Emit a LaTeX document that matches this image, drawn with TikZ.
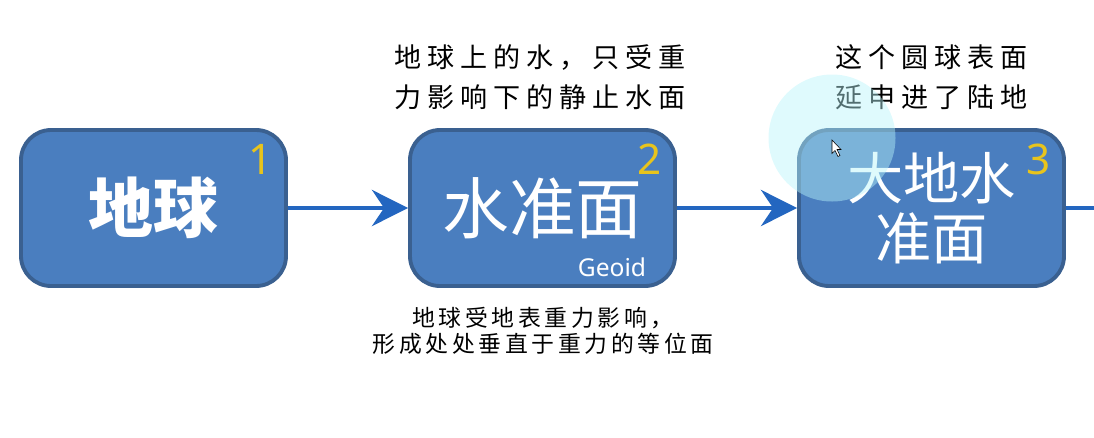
\documentclass[tikz,border=0pt]{standalone}
\usepackage{fontspec}
\usepackage{tikz}
\usetikzlibrary{arrows.meta,positioning}
\newfontfamily\cjk{Noto Sans CJK SC}
\newfontfamily\notefont[LetterSpace=22]{Noto Sans CJK SC}
\newfontfamily\subnotefont[LetterSpace=16]{Noto Sans CJK SC}
\setsansfont{Noto Sans}
\definecolor{boxfill}{HTML}{4A7EBF}
\definecolor{boxline}{HTML}{3A6090}
\definecolor{arrowblue}{HTML}{2366C0}
\definecolor{numyellow}{HTML}{E8C41C}
\definecolor{spot}{HTML}{B8F4FA}

\begin{document}
\begin{tikzpicture}[>={Stealth[length=0.72cm,width=0.72cm,inset=0.24cm]},shorten >=0pt,node distance=7.78cm,
    stage/.style={draw=boxline,line width=2.2pt,fill=boxfill,rounded corners=0.6cm,
      minimum width=5.3cm,minimum height=3.12cm,text=white,align=center},
    num/.style={text=numyellow,font=\sffamily\fontsize{24}{24}\selectfont},
    note/.style={align=center,font=\notefont\fontsize{15.4}{22.7}\selectfont},
    flow/.style={color=arrowblue,line width=2.8pt}]
      \useasboundingbox (0,0) rectangle (21.88,-8.74);

      \node[stage,font=\cjk\bfseries\fontsize{37}{40}\selectfont] (1) at (3.07,-4.16) {地球};
      \node[stage,font=\cjk\fontsize{38}{40}\selectfont]          (2) [right of=1] {水准面};
      \node[stage,font=\cjk\fontsize{32}{34}\selectfont]          (3) [right of=2] {大地水\\准面};
      \coordinate (next) at (21.88,-4.16);

      \node[num] (n1) at ([xshift=-0.54cm,yshift=-0.62cm]1.north east) {1};
      \node[num] (n2) at ([xshift=-0.54cm,yshift=-0.62cm]2.north east) {2};
      \node[num] (n3) at ([xshift=-0.54cm,yshift=-0.62cm]3.north east) {3};
      \node[text=white,font=\sffamily\fontsize{14}{14}\selectfont] (geoid)
        at ([xshift=-1.3cm,yshift=0.42cm]2.south east) {Geoid};

      \node[note] (top2) at (10.8,-1.54) {地球上的水，只受重\\力影响下的静止水面};
      \node[note] (top3) at (18.63,-1.54) {这个圆球表面\\延申进了陆地};
      \node[note,font=\subnotefont\fontsize{13}{14.8}\selectfont] (low2) at (10.86,-6.62)
        {地球受地表重力影响，\\形成处处垂直于重力的等位面};

      \path[flow,->] (1) edge (2);
      \path[flow,->] (2) edge (3);
      \path[flow]    (3) edge (next);

      % pointer highlight
      \fill[spot,opacity=0.45] (16.64,-2.76) circle (1.27cm);
      \filldraw[fill=white,draw=black,line width=0.3pt] (16.64,-2.8) -- ++(0,-0.27) -- ++(0.06,0.06)
        -- ++(0.06,-0.12) -- ++(0.04,0.02) -- ++(-0.06,0.12) -- ++(0.08,0) -- cycle;
    \end{tikzpicture}
\end{document}
